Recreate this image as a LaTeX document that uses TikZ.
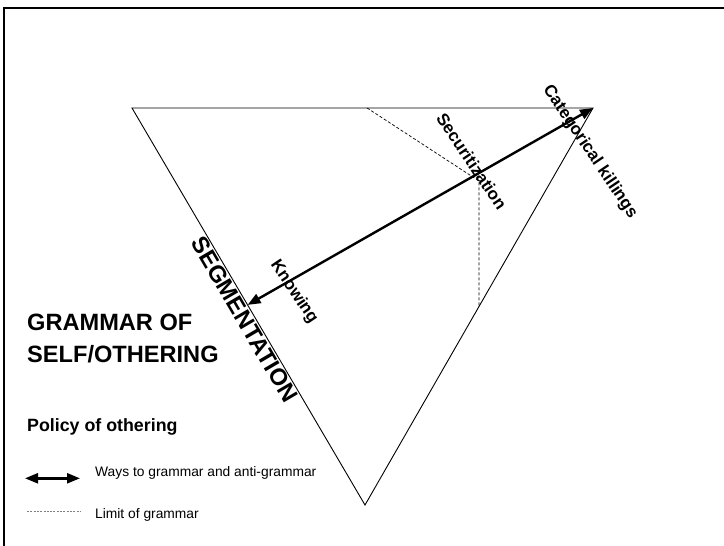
\documentclass[tikz,border=0pt]{standalone}
\usepackage{fontspec}
\setmainfont{Liberation Sans}
\usetikzlibrary{arrows.meta,calc}

\tikzset{
  edge/.style={line width=0.9pt, black},
  limitline/.style={line width=0.7pt, dash pattern=on 3pt off 2pt},
  wayarrow/.style={line width=2.4pt, {Triangle[length=13pt,width=10pt]}-{Triangle[length=13pt,width=10pt]}},
  tag/.style={font=\bfseries\fontsize{17}{19}\selectfont, inner sep=0pt, rotate=-56},
  bigtext/.style={font=\bfseries\fontsize{23.6}{27}\selectfont},
  legendtext/.style={font=\fontsize{13.8}{16}\selectfont, anchor=base west, inner sep=0pt},
}

\begin{document}
\begin{tikzpicture}[x=1pt,y=-1pt]
\useasboundingbox (0,0) rectangle (724,546);

% frame
\draw[line width=2pt] (3.7,546) -- (3.7,7.5) -- (724,7.5);

% triangle corners
\coordinate (L) at (132,108);
\coordinate (R) at (593,108);
\coordinate (B) at (365,505);

% triangle
\draw[edge] (L) -- (R) -- (B) -- cycle;

% limit of grammar
\coordinate (D1) at ($(L)!0.51!(R)$);
\coordinate (D3) at ($(R)!0.5!(B)$);
\coordinate (D2) at (D3 |- 0,181);
\draw[limitline] (D1) -- (D2) -- (D3);

% way between the poles
\coordinate (K) at ($(L)!0.496!(B)$);
\draw[wayarrow] (K) -- (R);

% labels along the way
\node[tag] (knowing) at (294,292) {Knowing};
\node[tag] (secur) at (471.7,161.4) {Securitization};
\node[tag] (kill) at (590,152) {Categorical killings};

% side label
\node[bigtext, inner sep=1pt, anchor=north, rotate=-59.6]
  (segm) at ($(L)!0.52!(B)$) {SEGMENTATION};

% title
\node[bigtext, anchor=base west, inner sep=0pt]
  (title1) at (27,330.7) {GRAMMAR OF};
\node[bigtext, anchor=base west, inner sep=0pt]
  (title2) at (27,362.3) {SELF/OTHERING};

% legend
\node[font=\bfseries\fontsize{17.8}{20}\selectfont, anchor=base west, inner sep=0pt]
  (policy) at (27,431.5) {Policy of othering};

\coordinate (la1) at (25,478.3);
\coordinate (la2) at (80,478.3);
\draw[wayarrow] (la1) -- (la2);
\node[legendtext] (waystxt) at (95,476.7) {Ways to grammar and anti-grammar};

\coordinate (ld1) at (27,511.5);
\coordinate (ld2) at (80,511.5);
\draw[line width=0.8pt, gray, dash pattern=on 2pt off 1.3pt] (ld1) -- (ld2);
\node[legendtext] (limittxt) at (95,518.3) {Limit of grammar};
\end{tikzpicture}
\end{document}
